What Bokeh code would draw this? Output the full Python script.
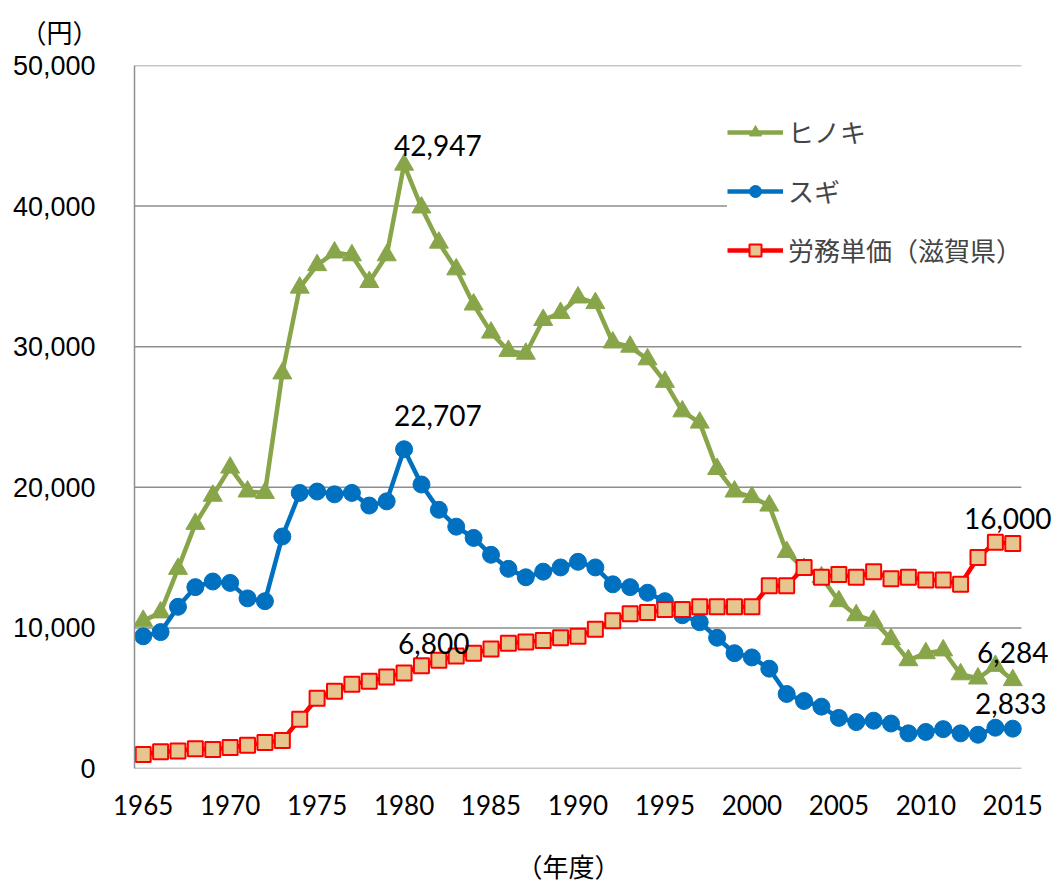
from bokeh.plotting import figure
from bokeh.models import (Range1d, FixedTicker, NumeralTickFormatter, Legend, LegendItem, Label, Title)
from bokeh.embed import file_html
from bokeh.resources import INLINE

years = list(range(1965, 2016))

hinoki = [10500, 11100, 14200, 17400, 19400, 21400, 19700, 19600, 28100, 34200,
          35800, 36700, 36500, 34600, 36500, 42947, 39900, 37400, 35500, 33000,
          31000, 29700, 29500, 31900, 32400, 33500, 33100, 30300, 30000, 29100,
          27500, 25400, 24600, 21300, 19700, 19300, 18700, 15400, 14200, 13600,
          11900, 10900, 10500, 9200, 7700, 8200, 8400, 6700, 6400, 7300,
          6284]

sugi = [9400, 9700, 11500, 12900, 13300, 13200, 12100, 11900, 16500, 19600,
        19700, 19500, 19600, 18700, 19000, 22707, 20200, 18400, 17200, 16400,
        15200, 14200, 13600, 14000, 14300, 14700, 14300, 13100, 12900, 12500,
        11900, 10900, 10400, 9300, 8200, 7900, 7100, 5300, 4800, 4400,
        3600, 3300, 3400, 3200, 2500, 2600, 2800, 2500, 2400, 2900,
        2833]

labor = [1000, 1200, 1250, 1400, 1350, 1500, 1650, 1850, 2000, 3500,
         5000, 5500, 6000, 6200, 6500, 6800, 7300, 7700, 8000, 8200,
         8500, 8900, 9000, 9100, 9300, 9400, 9900, 10500, 11000, 11100,
         11300, 11300, 11500, 11500, 11500, 11500, 13000, 13000, 14300, 13600,
         13800, 13600, 14000, 13500, 13600, 13400, 13400, 13100, 15000, 16100,
         16000]

series_names = ["ヒノキ", "スギ", "労務単価（滋賀県）"]
x_ticks = list(range(1965, 2016, 5))
y_ticks = [0, 10000, 20000, 30000, 40000, 50000]
y_unit = "（円）"
x_unit = "（年度）"

GREEN = "#88A54A"
BLUE = "#0070C0"
RED = "#FF0000"
TAN = "#E6C68E"
GRID = "#8E8E8E"
UNIT_FONT = "Liberation Sans, Noto Sans CJK JP"

X0, X1 = years[0] - 0.5, years[-1] + 0.5   # category band edges

p = figure(width=1054, height=885, output_backend="svg", toolbar_location=None,
           x_range=Range1d(X0, 2017.4), y_range=Range1d(0, 50000),
           min_border_left=134, min_border_right=0, min_border_top=65, min_border_bottom=115)
p.outline_line_color = None
p.background_fill_color = "white"
p.border_fill_color = "white"

p.title = Title(text=y_unit, align="left", offset=-114, standoff=33, vertical_align="bottom",
                text_font=UNIT_FONT, text_font_size="26px",
                text_font_style="normal", text_color="black")

p.xgrid.grid_line_color = None
p.ygrid.grid_line_color = None

# horizontal gridlines limited to the category band
p.segment(x0=[X0] * len(y_ticks), x1=[X1] * len(y_ticks), y0=y_ticks, y1=y_ticks,
          line_color=GRID, line_width=1.5)

p.xaxis.ticker = FixedTicker(ticks=x_ticks)
p.yaxis.ticker = FixedTicker(ticks=y_ticks)
p.yaxis.formatter = NumeralTickFormatter(format="0,0")
for ax in (p.xaxis, p.yaxis):
    ax.axis_line_color = GRID
    ax.axis_line_width = 1.5
    ax.major_tick_line_color = None
    ax.minor_tick_line_color = None
    ax.major_tick_out = 0
    ax.major_tick_in = 0
    ax.minor_tick_out = 0
    ax.major_label_text_color = "black"
p.xaxis.axis_line_color = None
p.xaxis.major_label_text_font = "Lato"
p.xaxis.major_label_text_font_size = "26px"
p.xaxis.major_label_standoff = 26
p.xaxis.axis_label = x_unit + "\u3000\u3000\u2002"
p.xaxis.axis_label_text_font = UNIT_FONT
p.xaxis.axis_label_text_font_size = "26px"
p.xaxis.axis_label_text_font_style = "normal"
p.xaxis.axis_label_text_color = "black"
p.xaxis.axis_label_standoff = 35
p.yaxis.major_label_text_font = "Liberation Sans"
p.yaxis.major_label_text_font_size = "27px"
p.yaxis.major_label_standoff = 39

# series (drawn in order: hinoki, sugi, labor)
l1 = p.line(years, hinoki, line_color=GREEN, line_width=4.5)
m1 = p.scatter(years, hinoki, marker="triangle", size=19, fill_color=GREEN, line_color=GREEN)
l2 = p.line(years, sugi, line_color=BLUE, line_width=4.5)
m2 = p.scatter(years, sugi, marker="circle", size=17, fill_color=BLUE, line_color=BLUE)
l3 = p.line(years, labor, line_color=RED, line_width=4.5)
m3 = p.scatter(years, labor, marker="square", size=15, fill_color=TAN, line_color=RED, line_width=2)

legend = Legend(items=[LegendItem(label=series_names[0], renderers=[l1, m1]),
                       LegendItem(label=series_names[1], renderers=[l2, m2]),
                       LegendItem(label=series_names[2], renderers=[l3, m3])],
                location=(593, 500), orientation="vertical",
                label_text_font="Noto Sans CJK JP", label_text_font_size="26px",
                label_height=30, glyph_height=30, glyph_width=56, spacing=22,
                padding=6, margin=0, label_standoff=5,
                background_fill_color="white", background_fill_alpha=1.0,
                border_line_color=None)
p.add_layout(legend)

# data labels
i80 = years.index(1980)
iend = len(years) - 1
lab_style = dict(text_font="Lato", text_font_size="28px", text_color="black",
                 text_baseline="alphabetic")
p.add_layout(Label(x=years[i80], y=hinoki[i80], text=f"{hinoki[i80]:,}", text_align="left",
                   x_offset=-10, y_offset=19, **lab_style))
p.add_layout(Label(x=years[i80], y=sugi[i80], text=f"{sugi[i80]:,}", text_align="left",
                   x_offset=-10, y_offset=34, **lab_style))
p.add_layout(Label(x=years[i80], y=labor[i80], text=f"{labor[i80]:,}", text_align="left",
                   x_offset=-6, y_offset=29, **lab_style))
p.add_layout(Label(x=years[iend], y=labor[iend], text=f"{labor[iend]:,}", text_align="center",
                   x_offset=-5, y_offset=25, **lab_style))
p.add_layout(Label(x=years[iend], y=hinoki[iend], text=f"{hinoki[iend]:,}", text_align="center",
                   x_offset=0, y_offset=28, **lab_style))
p.add_layout(Label(x=years[iend], y=sugi[iend], text=f"{sugi[iend]:,}", text_align="center",
                   x_offset=-2, y_offset=25, **lab_style))

open("out.html", "w").write(file_html(p, INLINE))
